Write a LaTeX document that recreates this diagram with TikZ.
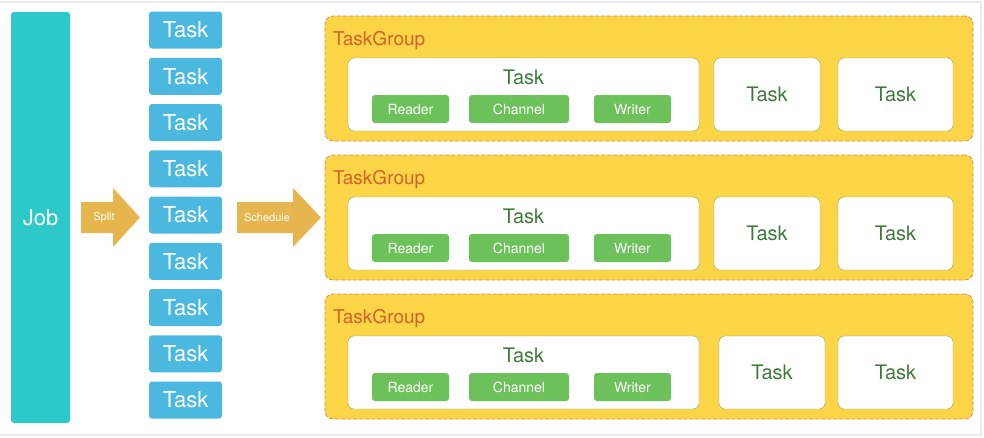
\documentclass[tikz,border=0pt]{standalone}
\usepackage{fontspec}
\setmainfont{TeX Gyre Heros}
\usetikzlibrary{positioning}

\definecolor{jobc}{HTML}{2DC9C8}
\definecolor{taskc}{HTML}{4AB8DF}
\definecolor{arrowc}{HTML}{E6B54D}
\definecolor{groupc}{HTML}{FBD545}
\definecolor{groupline}{HTML}{E08A4A}
\definecolor{grouptext}{HTML}{D2622A}
\definecolor{subc}{HTML}{6CC15A}
\definecolor{tasktext}{HTML}{3E7B3A}
\definecolor{boxline}{HTML}{7FA65A}

\begin{document}
\begin{tikzpicture}
  [x=1pt, y=-1pt,
   job/.style={rectangle, rounded corners=3pt, fill=jobc, text=white, minimum width=59pt, minimum height=411pt, font=\fontsize{22}{24}\selectfont},
   task/.style={rectangle, rounded corners=3pt, fill=taskc, text=white, minimum width=73pt, minimum height=37pt, font=\fontsize{22}{24}\selectfont},
   group/.style={rectangle, rounded corners=8pt, fill=groupc, draw=groupline, thick, dash pattern=on 4pt off 2pt, minimum width=648pt, minimum height=125pt},
   tbox/.style={rectangle, rounded corners=6pt, fill=white, draw=boxline, minimum height=73pt, text=tasktext, font=\fontsize{20}{22}\selectfont},
   sub/.style={rectangle, rounded corners=3pt, fill=subc, text=white, minimum height=28pt, font=\fontsize{14}{16}\selectfont},
   arrowtxt/.style={text=white, font=\fontsize{11}{13}\selectfont}]
  \useasboundingbox (0,0) rectangle (984,437);
  \draw [black!8, line width=2pt] (0,2) -- (981,2) -- (981,435) -- (0,435);
  % job and its tasks
  \node (job) at (40.5,217.5) [job] {Job};
  \foreach \i in {0,...,8}{
    \node (t\i) at (185.5,30+46.25*\i) [task] {Task};
  }
  % arrows
  \fill [arrowc] (81,202) -- (113,202) -- (113,188) -- (140,217.5) -- (113,247) -- (113,233) -- (81,233) -- cycle;
  \node (split) at (104,217.5) [arrowtxt] {Split};
  \fill [arrowc] (237,202) -- (293,202) -- (293,188) -- (321,217.5) -- (293,247) -- (293,233) -- (237,233) -- cycle;
  \node (sched) at (267,217.5) [arrowtxt] {Schedule};
  % task groups
  \foreach \g/\y/\xa in {1/16/767, 2/155/767, 3/294/772}{
    \node (g\g) at (649,\y+62.5) [group] {};
    \node (tg\g) at (333,\y+24) [anchor=west, inner sep=0pt, text=grouptext, font=\fontsize{19}{21}\selectfont] {TaskGroup};
    \node (big\g) at (523.5,\y+78.5) [tbox, minimum width=351pt] {};
    \node (bt\g) [below=9pt of big\g.north, text=tasktext, font=\fontsize{20}{22}\selectfont] {Task};
    \node (rd\g) at (410.5,\y+93) [sub, minimum width=77pt] {Reader};
    \node (ch\g) at (519,\y+93) [sub, minimum width=100pt] {Channel};
    \node (wr\g) at (632.5,\y+93) [sub, minimum width=77pt] {Writer};
    \node (ta\g) at (\xa,\y+78.5) [tbox, minimum width=106pt] {Task};
    \node (tb\g) at (895.5,\y+78.5) [tbox, minimum width=115pt] {Task};
  }
\end{tikzpicture}
\end{document}
